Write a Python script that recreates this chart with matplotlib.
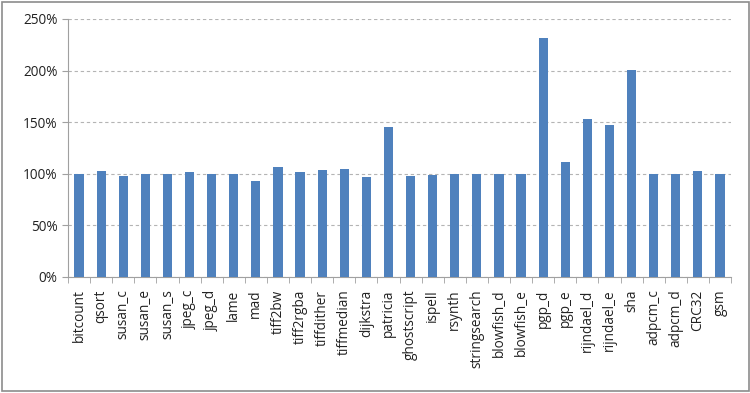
import numpy as np
import matplotlib.pyplot as plt
from matplotlib.ticker import FuncFormatter, FixedLocator
from matplotlib.patches import Rectangle

benchmarks = ["bitcount", "qsort", "susan_c", "susan_e", "susan_s", "jpeg_c", "jpeg_d",
              "lame", "mad", "tiff2bw", "tiff2rgba", "tiffdither", "tiffmedian", "dijkstra",
              "patricia", "ghostscript", "ispell", "rsynth", "stringsearch", "blowfish_d",
              "blowfish_e", "pgp_d", "pgp_e", "rijndael_d", "rijndael_e", "sha", "adpcm_c",
              "adpcm_d", "CRC32", "gsm"]
ratio = [100, 102.6, 97.7, 99.4, 100, 101.6, 99.7,
         100, 93.2, 106.5, 101.3, 103.5, 104.8, 97.1,
         145.5, 97.4, 98.7, 100, 99.4, 99.7,
         99.7, 231.6, 111.6, 152.9, 147.4, 200.3, 100,
         100, 102.3, 100]

plt.rcParams['font.family'] = ['Open Sans', 'DejaVu Sans']

fig = plt.figure(figsize=(7.5, 3.93), dpi=100)
ax = fig.add_axes([68 / 750, 1 - 277 / 393, (731 - 68) / 750, (277 - 19) / 393])

x = np.arange(len(benchmarks))
ax.bar(x, ratio, width=0.42, color="#4f81bd", zorder=3)

ax.set_xlim(-0.5, len(benchmarks) - 0.5)
ax.set_ylim(0, 250)
ax.set_yticks(np.arange(0, 251, 50))
ax.yaxis.set_major_formatter(FuncFormatter(lambda v, p: f"{int(v)}%"))
ax.grid(axis="y", color="#b4b4b4", linestyle=(0, (3, 2.5)), linewidth=0.8, zorder=0)

ax.set_xticks(x)
ax.set_xticklabels(benchmarks, rotation=90, fontsize=9.8, color="#222222")
ax.xaxis.set_minor_locator(FixedLocator(np.arange(-0.5, len(benchmarks), 1)))
ax.tick_params(axis="x", which="major", length=0, pad=9)
ax.tick_params(axis="x", which="minor", length=4, color="#a0a0a0")
ax.tick_params(axis="y", length=4, color="#a0a0a0", labelsize=9.8, labelcolor="#222222")

for s in ["top", "right"]:
    ax.spines[s].set_visible(False)
for s in ["left", "bottom"]:
    ax.spines[s].set_color("#a0a0a0")

fig.patches.append(Rectangle((0.002, 0.004), 0.996, 0.992, transform=fig.transFigure,
                             fill=False, edgecolor="#8c8c8c", linewidth=1.2))

fig.savefig("out.png", dpi=100)
